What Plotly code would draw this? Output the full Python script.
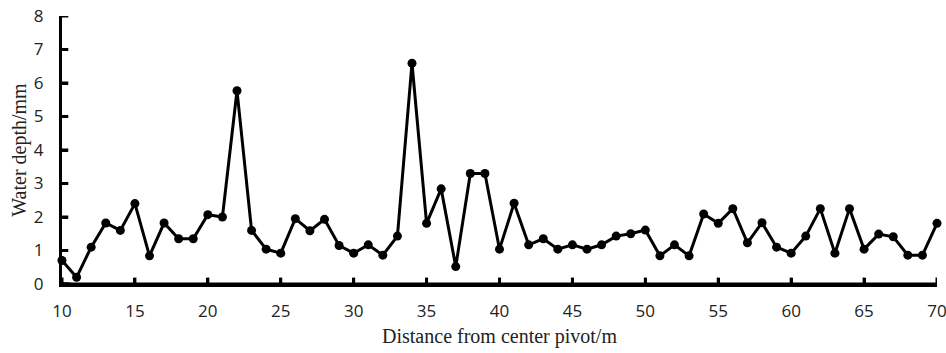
import plotly.graph_objects as go

distance = list(range(10, 71))
depth = [0.70, 0.20, 1.10, 1.82, 1.60, 2.40, 0.84, 1.82, 1.35, 1.35,
         2.07, 2.00, 5.77, 1.60, 1.04, 0.92, 1.95, 1.59, 1.93, 1.15,
         0.92, 1.17, 0.86, 1.43, 6.59, 1.81, 2.84, 0.52, 3.30, 3.30,
         1.04, 2.41, 1.17, 1.35, 1.04, 1.17, 1.04, 1.17, 1.43, 1.50,
         1.61, 0.84, 1.17, 0.84, 2.09, 1.81, 2.25, 1.23, 1.83, 1.10,
         0.92, 1.43, 2.25, 0.92, 2.25, 1.04, 1.49, 1.41, 0.86, 0.86,
         1.81]
x_ticks = [10, 15, 20, 25, 30, 35, 40, 45, 50, 55, 60, 65, 70]
y_ticks = [0, 1, 2, 3, 4, 5, 6, 7, 8]

fig = go.Figure(go.Scatter(
    x=distance, y=depth, mode="lines+markers",
    line=dict(color="black", width=3),
    marker=dict(color="black", size=9),
    showlegend=False,
    cliponaxis=False,
))

tickfont = dict(family="Open Sans, sans-serif", size=17, color="#222")
titlefont = dict(family="Liberation Serif, Times New Roman, serif", size=20, color="#222")

fig.update_layout(
    width=946, height=353,
    margin=dict(l=62, r=9, t=16, b=69, autoexpand=False),
    paper_bgcolor="white", plot_bgcolor="white",
    xaxis=dict(
        range=[10, 70], tickvals=x_ticks, ticks="inside", ticklen=6, tickwidth=3,
        tickcolor="black", showline=True, linecolor="black", linewidth=3,
        automargin=False,
        showgrid=False, zeroline=False, tickfont=tickfont,
        ticklabelstandoff=10, ticklabeloverflow="allow",
        title=dict(text="Distance from center pivot/m", font=titlefont, standoff=8),
    ),
    yaxis=dict(
        range=[0, 8], tickvals=y_ticks, ticks="inside", ticklen=6, tickwidth=3,
        tickcolor="black", showline=True, linecolor="black", linewidth=3,
        automargin=False,
        showgrid=False, zeroline=False,
        tickfont=tickfont, ticklabelstandoff=12,
        title=dict(text="Water depth/mm", font=titlefont, standoff=2),
    ),
)

# axis decorations: x baseline drawn in segments between ticks, plus inside tick marks
axis_line = dict(color="black", width=3)
for a, b in zip(x_ticks[:-1], x_ticks[1:]):
    fig.add_shape(type="line", xref="x", yref="paper",
                  x0=a, x1=b, y0=0, y1=0, line=axis_line, layer="above")
fig.add_shape(type="line", xref="paper", yref="paper",
              x0=-0.0034, x1=0.01, y0=0, y1=0, line=axis_line, layer="above")
for v in x_ticks:
    fig.add_shape(type="line", xref="x", yref="paper",
                  x0=v, x1=v, y0=0, y1=0.024, line=axis_line, layer="above")
for v in y_ticks:
    fig.add_shape(type="line", xref="paper", yref="y",
                  x0=0, x1=0.0072, y0=v, y1=v, line=axis_line, layer="above")

fig.write_html("out.html", config={"displayModeBar": False, "staticPlot": True},
               post_script="document.body.style.margin='0';")
